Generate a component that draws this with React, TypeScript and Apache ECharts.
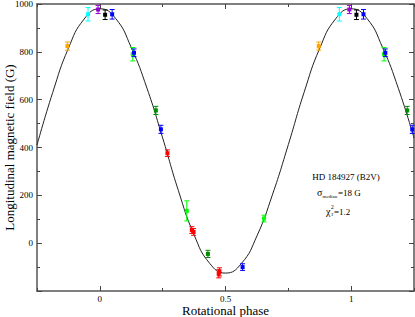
import React, { useEffect, useRef } from "react";
import * as echarts from "echarts";

// Fitted curve
const curvePhase = [-0.25, -0.1875, -0.125, -0.0625, 0, 0.0625, 0.125, 0.1875, 0.25, 0.3125, 0.375, 0.4375, 0.5, 0.5625, 0.625, 0.6875, 0.75, 0.8125, 0.875, 0.9375, 1, 1.0625, 1.125, 1.1875, 1.25];
const curveValue = [410, 630, 815, 937, 980, 940, 818, 648, 440, 220, 35, -85, -125, -86, 30, 205, 412, 630, 815, 937, 980, 940, 818, 648, 440];

// Observations (phase in [0,1)), values (G), errors (G), instrument group
const obsPhase = [0.871, 0.953, 0.993, 0.021, 0.049, 0.131, 0.136, 0.223, 0.243, 0.269, 0.346, 0.366, 0.373, 0.43, 0.473, 0.476, 0.568, 0.653];
const obsValue = [824, 957, 977, 955, 957, 790, 796, 555, 476, 376, 135, 55, 47, -45, -128, -120, -100, 103];
const obsError = [17, 28, 17, 20, 20, 28, 16, 17, 17, 14, 42, 14, 14, 15, 17, 17, 14, 14];
const obsGroup = ["orange", "cyan", "violet", "black", "blue", "green", "blue", "green4", "blue", "red", "green", "red", "red", "green4", "red", "red", "blue", "green"];

const xTickLabels = [0, 0.5, 1];

const groupColor: Record<string, string> = {
  orange: "#ffa500",
  cyan: "#00ffff",
  violet: "#9400d3",
  black: "#000000",
  blue: "#0000ff",
  green: "#00ff00",
  green4: "#008b00",
  red: "#ff0000",
};

const FONT = "'Liberation Serif', 'Times New Roman', serif";

export default function App() {
  const ref = useRef<HTMLDivElement>(null);
  useEffect(() => {
    if (!ref.current) return;
    const chart = echarts.init(ref.current, undefined, { renderer: "svg" });

    const pts: any[] = [];
    obsPhase.forEach((p, i) => {
      [-1, 0, 1].forEach((s) => {
        const x = p + s;
        if (x >= -0.25 && x <= 1.25) pts.push([x, obsValue[i], obsError[i], i]);
      });
    });

    const axisLine = { show: true, onZero: false, lineStyle: { color: "#555", width: 1.5 } };
    const noLine = { show: false, onZero: false };
    const tickStyle = { color: "#444", width: 1 };
    const labelStyle = { fontFamily: FONT, fontSize: 9, color: "#000" };

    const xBase = { type: "value", min: -0.25, max: 1.25, interval: 0.25, splitLine: { show: false } };
    const yBase = { type: "value", min: -200, max: 1000, interval: 200, splitLine: { show: false } };

    chart.setOption({
      animation: false,
      backgroundColor: "#fff",
      textStyle: { fontFamily: FONT },
      grid: { left: 37, right: 1, top: 4, bottom: 26, containLabel: false, outerBoundsMode: "none" },
      xAxis: [
        {
          ...xBase,
          position: "bottom",
          axisLine,
          axisTick: { inside: true, length: 3, lineStyle: tickStyle },
          axisLabel: { ...labelStyle, margin: 3, customValues: xTickLabels, formatter: (v: number) => String(v) },
          name: "Rotational phase",
          nameLocation: "middle",
          nameGap: 13,
          nameMoveOverlap: false,
          nameTextStyle: { fontFamily: FONT, fontSize: 13, color: "#000" },
        },
        {
          ...xBase,
          position: "top",
          axisLine,
          axisTick: { inside: true, length: 3, lineStyle: tickStyle },
          axisLabel: { show: false },
        },
        {
          ...xBase,
          position: "bottom",
          axisLine: noLine,
          axisTick: { inside: true, length: 5, customValues: xTickLabels, lineStyle: tickStyle },
          axisLabel: { show: false },
        },
        {
          ...xBase,
          position: "top",
          axisLine: noLine,
          axisTick: { inside: true, length: 5, customValues: xTickLabels, lineStyle: tickStyle },
          axisLabel: { show: false },
        },
      ],
      yAxis: [
        {
          ...yBase,
          position: "left",
          axisLine,
          axisTick: { inside: true, length: 5, lineStyle: tickStyle },
          minorTick: { show: true, splitNumber: 2, length: 3, lineStyle: tickStyle },
          axisLabel: { ...labelStyle, margin: 4, formatter: (v: number) => (v === -200 ? "" : String(v)) },
          name: "Longitudinal magnetic field (G)",
          nameLocation: "middle",
          nameGap: 21,
          nameRotate: 90,
          nameMoveOverlap: false,
          nameTextStyle: { fontFamily: FONT, fontSize: 13, color: "#000" },
        },
        {
          ...yBase,
          position: "right",
          axisLine,
          axisTick: { inside: true, length: 5, lineStyle: tickStyle },
          minorTick: { show: true, splitNumber: 2, length: 3, lineStyle: tickStyle },
          axisLabel: { show: false },
        },
      ],
      series: [
        {
          type: "line",
          xAxisIndex: 0,
          yAxisIndex: 0,
          data: curvePhase.map((p, i) => [p, curveValue[i]]),
          smooth: 0.5,
          showSymbol: false,
          lineStyle: { color: "#222", width: 1 },
          z: 2,
        },
        {
          type: "custom",
          xAxisIndex: 0,
          yAxisIndex: 0,
          data: pts,
          z: 3,
          renderItem: (params: any, api: any) => {
            const x = api.value(0);
            const y = api.value(1);
            const e = api.value(2);
            const idx = api.value(3);
            const color = groupColor[obsGroup[idx]];
            const c = api.coord([x, y]);
            const hi = api.coord([x, y + e]);
            const lo = api.coord([x, y - e]);
            const cap = 2.5;
            const s = 2;
            const st = { stroke: color, lineWidth: 1 };
            return {
              type: "group",
              children: [
                { type: "line", shape: { x1: c[0], y1: hi[1], x2: c[0], y2: lo[1] }, style: st },
                { type: "line", shape: { x1: c[0] - cap, y1: hi[1], x2: c[0] + cap, y2: hi[1] }, style: st },
                { type: "line", shape: { x1: c[0] - cap, y1: lo[1], x2: c[0] + cap, y2: lo[1] }, style: st },
                { type: "rect", shape: { x: c[0] - s, y: c[1] - s, width: 2 * s, height: 2 * s }, style: { fill: color } },
              ],
            };
          },
        },
      ],
      graphic: [
        { type: "text", x: 346, y: 176.5, style: { text: "HD 184927 (B2V)", font: `9px ${FONT}`, fill: "#000", align: "center", verticalAlign: "middle" } },
        { type: "text", x: 317, y: 192.5, style: { text: "σ", font: `10px ${FONT}`, fill: "#000", align: "left", verticalAlign: "middle" } },
        { type: "text", x: 322.5, y: 196.5, style: { text: "median", font: `5px ${FONT}`, fill: "#000", align: "left", verticalAlign: "middle" } },
        { type: "text", x: 338, y: 192.5, style: { text: "=18 G", font: `9px ${FONT}`, fill: "#000", align: "left", verticalAlign: "middle" } },
        { type: "text", x: 326, y: 211, style: { text: "χ", font: `10px ${FONT}`, fill: "#000", align: "left", verticalAlign: "middle" } },
        { type: "text", x: 331, y: 206.5, style: { text: "2", font: `5.5px ${FONT}`, fill: "#000", align: "left", verticalAlign: "middle" } },
        { type: "text", x: 331.5, y: 213.5, style: { text: "r", font: `5.5px ${FONT}`, fill: "#000", align: "left", verticalAlign: "middle" } },
        { type: "text", x: 334, y: 211.5, style: { text: "=1.2", font: `9px ${FONT}`, fill: "#000", align: "left", verticalAlign: "middle" } },
      ],
    });
    return () => chart.dispose();
  }, []);
  return <div ref={ref} style={{ position: "fixed", left: 0, top: 0, width: 415, height: 317 }} />;
}
